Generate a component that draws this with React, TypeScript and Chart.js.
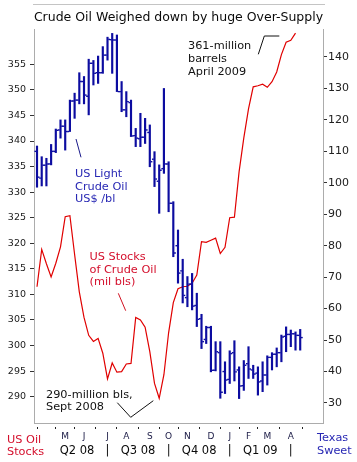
import React, { useEffect, useRef } from 'react';
import { Chart, registerables } from 'chart.js';

Chart.register(...registerables);

const FONT = '"DejaVu Sans", Verdana, sans-serif';

// Weekly categories (week starting)
const weeks = [
  '2008-03-17', '2008-03-24', '2008-03-31', '2008-04-07', '2008-04-14', '2008-04-21', '2008-04-28',
  '2008-05-05', '2008-05-12', '2008-05-19', '2008-05-26', '2008-06-02', '2008-06-09', '2008-06-16',
  '2008-06-23', '2008-06-30', '2008-07-07', '2008-07-14', '2008-07-21', '2008-07-28', '2008-08-04',
  '2008-08-11', '2008-08-18', '2008-08-25', '2008-09-01', '2008-09-08', '2008-09-15', '2008-09-22',
  '2008-09-29', '2008-10-06', '2008-10-13', '2008-10-20', '2008-10-27', '2008-11-03', '2008-11-10',
  '2008-11-17', '2008-11-24', '2008-12-01', '2008-12-08', '2008-12-15', '2008-12-22', '2008-12-29',
  '2009-01-05', '2009-01-12', '2009-01-19', '2009-01-26', '2009-02-02', '2009-02-09', '2009-02-16',
  '2009-02-23', '2009-03-02', '2009-03-09', '2009-03-16', '2009-03-23', '2009-03-30', '2009-04-06',
  '2009-04-13',
];

// Texas Sweet (US Light Crude) weekly OHLC, US$/bl
const wtiOpen = [
  110.0, 101.5, 105.6, 106.0, 110.0, 116.8, 118.0, 116.3, 126.0, 126.3, 132.2, 127.5, 138.0, 135.0,
  135.0, 140.6, 145.5, 145.4, 129.0, 123.2, 125.5, 115.0, 114.0, 114.5, 116.0, 107.5, 100.5, 104.5,
  106.0, 93.5, 80.0, 72.0, 63.5, 67.8, 61.0, 56.8, 50.2, 54.0, 40.4, 46.0, 40.0, 37.5,
  46.0, 40.5, 35.5, 42.5, 40.5, 39.5, 37.0, 38.9, 44.5, 45.5, 46.0, 51.2, 51.8, 52.0,
  51.5,
];
const wtiHigh = [
  111.7, 108.3, 107.8, 112.2, 117.1, 120.0, 120.0, 126.3, 128.5, 135.0, 133.8, 139.3, 138.9, 140.3,
  143.3, 146.3, 147.5, 147.0, 132.2, 129.0, 126.3, 117.3, 122.1, 120.5, 118.4, 109.9, 105.7, 130.0,
  106.7, 94.0, 85.0, 75.7, 70.2, 71.2, 64.9, 58.2, 54.4, 54.4, 49.5, 49.5, 43.1, 46.6,
  49.8, 41.5, 43.5, 47.9, 42.0, 41.5, 43.1, 45.0, 46.0, 47.5, 51.6, 54.2, 53.2, 52.6,
  53.4,
];
const wtiLow = [
  98.6, 99.0, 99.0, 105.7, 109.6, 114.2, 110.4, 116.3, 120.5, 125.1, 125.1, 121.6, 131.1, 131.6,
  134.8, 139.0, 134.8, 129.0, 122.6, 121.0, 114.7, 111.5, 111.5, 112.5, 105.1, 98.8, 90.3, 103.0,
  90.8, 76.5, 68.1, 61.8, 60.6, 59.6, 54.3, 47.3, 48.9, 39.9, 40.2, 31.5, 33.0, 36.2,
  37.0, 31.4, 34.0, 37.8, 37.8, 32.5, 33.6, 35.7, 40.5, 41.5, 43.1, 46.3, 47.9, 46.8,
  46.8,
];
const wtiClose = [
  101.8, 105.6, 106.0, 110.0, 116.7, 118.0, 116.3, 126.0, 126.3, 132.2, 127.9, 138.0, 134.8, 135.0,
  140.6, 145.6, 145.4, 129.0, 123.2, 125.8, 114.9, 114.2, 114.5, 116.8, 106.7, 101.2, 104.0, 106.0,
  93.5, 77.7, 71.3, 64.2, 67.8, 60.8, 56.6, 49.5, 54.0, 40.4, 46.3, 33.4, 37.3, 45.7,
  39.9, 35.4, 42.0, 40.8, 39.2, 36.7, 38.9, 44.5, 45.5, 46.0, 51.0, 51.8, 52.0, 51.5,
  50.8,
];

// US crude oil stocks, million barrels (weekly)
const crudeStocks = [
  311.5, 318.8, 316.0, 313.4, 316.1, 319.3, 325.2, 325.4, 317.8, 310.5, 305.5, 302.0, 300.8, 301.4,
  298.5, 293.5, 296.6, 294.8, 294.9, 296.4, 296.5, 305.5, 305.0, 303.6, 298.8, 292.6, 289.7, 294.3,
  302.5, 308.4, 311.1, 311.5, 311.6, 312.2, 313.8, 320.3, 320.2, 320.6, 321.0, 318.0, 319.2, 325.0,
  325.1, 334.0, 340.6, 346.3, 350.6, 350.8, 351.1, 350.5, 351.6, 353.5, 356.9, 359.3, 359.7, 361.1,
];

// Axis ticks
const monthTickWeeks = [2, 6, 10, 15, 19, 24, 28, 32, 37, 41, 45, 49, 54];
const monthLabels = ['', 'M', 'J', 'J', 'A', 'S', 'O', 'N', 'D', 'J', 'F', 'M', 'A'];
const quarterTickWeeks = [8.5, 15, 21.5, 28, 34.5, 41, 47.5, 54];
const quarterLabels = ['Q2 08', '|', 'Q3 08', '|', 'Q4 08', '|', 'Q1 09', '|'];
const stockTicks = [290, 295, 300, 305, 310, 315, 320, 325, 330, 335, 340, 345, 350, 355];
const priceTicks = [30, 40, 50, 60, 70, 80, 90, 100, 110, 120, 130, 140];

const TITLE = 'Crude Oil Weighed down by huge Over-Supply';

const BAR_COLOR = '#0c0ca0';
const LINE_COLOR = '#e00000';
const RED_TEXT = '#d40f2c';
const BLUE_TEXT = '#2828b4';

const notes = [
  { lines: ['US Light', 'Crude Oil', 'US$ /bl'], x: 75, ys: [177, 189.5, 201.5], color: BLUE_TEXT },
  { lines: ['US Stocks', 'of Crude Oil', '(mil bls)'], x: 89.5, ys: [259.5, 272.5, 285], color: RED_TEXT },
  { lines: ['290-million bls,', 'Sept 2008'], x: 46, ys: [397.5, 409.5], color: '#111111' },
  { lines: ['361-million', 'barrels', 'April 2009'], x: 188, ys: [48.5, 61.5, 75], color: '#111111' },
  { lines: ['US Oil', 'Stocks'], x: 7, ys: [442.5, 455], color: RED_TEXT },
  { lines: ['Texas', 'Sweet'], x: 317, ys: [440.5, 453.5], color: BLUE_TEXT },
];

const leaders = [
  { pts: [[76, 139], [81, 157.3]], color: '#1a1a8a' },
  { pts: [[118.3, 293.3], [125.7, 310.7]], color: '#d01020' },
  { pts: [[117.3, 402.7], [130.7, 417.3], [153.3, 400.7]], color: '#111111' },
  { pts: [[258.3, 54.3], [264.3, 36], [279.3, 36]], color: '#111111' },
];

const decorPlugin = {
  id: 'decor',
  afterDraw(chart: any) {
    const ctx = chart.ctx as CanvasRenderingContext2D;
    ctx.save();
    ctx.strokeStyle = '#c4c4c4';
    ctx.lineWidth = 1;
    ctx.beginPath();
    ctx.moveTo(33, 4.5);
    ctx.lineTo(325, 4.5);
    ctx.stroke();
    for (const l of leaders) {
      ctx.strokeStyle = l.color;
      ctx.lineWidth = 1;
      ctx.beginPath();
      l.pts.forEach((p, i) => (i === 0 ? ctx.moveTo(p[0], p[1]) : ctx.lineTo(p[0], p[1])));
      ctx.stroke();
    }
    ctx.font = `11.3px ${FONT}`;
    ctx.textAlign = 'left';
    ctx.textBaseline = 'alphabetic';
    for (const n of notes) {
      ctx.fillStyle = n.color;
      n.lines.forEach((t, i) => ctx.fillText(t, n.x, n.ys[i]));
    }
    ctx.restore();
  },
};

const tickDataset = (label: string, values: number[], shift: number) => ({
  type: 'line',
  label,
  data: weeks.map((_, i) => ({ x: i + shift, y: values[i] })),
  showLine: false,
  pointStyle: 'line',
  pointRadius: 0.9,
  pointHoverRadius: 0.9,
  pointBorderWidth: 1.4,
  pointBorderColor: BAR_COLOR,
  pointBackgroundColor: BAR_COLOR,
  xAxisID: 'x',
  yAxisID: 'y1',
  order: 1,
});

export default function App() {
  const ref = useRef<HTMLCanvasElement | null>(null);

  useEffect(() => {
    if (!ref.current) return;
    Chart.defaults.font.family = FONT;
    const chart = new Chart(ref.current, {
      type: 'bar',
      data: {
        datasets: [
          {
            type: 'bar',
            label: 'Texas Sweet range',
            data: weeks.map((_, i) => ({ x: i, y: [wtiLow[i], wtiHigh[i]] })) as any,
            backgroundColor: BAR_COLOR,
            borderWidth: 0,
            barThickness: 1.5,
            xAxisID: 'x',
            yAxisID: 'y1',
            order: 1,
          },
          tickDataset('Open', wtiOpen, -0.35),
          tickDataset('Close', wtiClose, 0.35),
          {
            type: 'line',
            label: 'US Stocks',
            data: crudeStocks.map((v, i) => ({ x: i, y: v })),
            borderColor: LINE_COLOR,
            borderWidth: 1.2,
            pointRadius: 0,
            tension: 0,
            fill: false,
            xAxisID: 'x',
            yAxisID: 'y',
            order: 2,
          },
        ] as any,
      },
      options: {
        responsive: false,
        animation: false,
        devicePixelRatio: 1,
        layout: { padding: 0 },
        plugins: {
          legend: { display: false },
          tooltip: { enabled: false },
          title: {
            display: true,
            text: TITLE,
            color: '#0a0a0a',
            font: { family: FONT, size: 12.5, weight: 'normal' },
            padding: { top: 10, bottom: 4 },
          },
        },
        scales: {
          x: {
            type: 'linear',
            position: 'bottom',
            min: -0.64,
            max: 60.85,
            offset: false,
            weight: 0,
            afterBuildTicks: (s: any) => {
              s.ticks = monthTickWeeks.map((v) => ({ value: v }));
            },
            afterFit: (s: any) => {
              s.height = 20;
            },
            ticks: {
              autoSkip: false,
              maxRotation: 0,
              padding: 2,
              color: '#20204a',
              font: { family: FONT, size: 9 },
              callback: (_v: any, i: number) => monthLabels[i],
            },
            grid: {
              drawOnChartArea: false,
              drawTicks: true,
              tickLength: 6,
              tickColor: '#222',
              tickWidth: 1,
              tickBorderDash: [0, 3, 3, 10],
            },
            border: { display: true, color: '#acacac', width: 1 },
          },
          x2: {
            type: 'linear',
            position: 'bottom',
            min: -0.64,
            max: 60.85,
            offset: false,
            weight: 1,
            afterBuildTicks: (s: any) => {
              s.ticks = quarterTickWeeks.map((v) => ({ value: v }));
            },
            afterFit: (s: any) => {
              s.height = 19;
            },
            ticks: {
              autoSkip: false,
              maxRotation: 0,
              padding: 1,
              color: '#0a0a0a',
              font: { family: FONT, size: 11.5 },
              callback: (_v: any, i: number) => quarterLabels[i],
            },
            grid: { display: false, drawTicks: false },
            border: { display: false },
          },
          y: {
            type: 'linear',
            position: 'left',
            min: 284.86,
            max: 361.9,
            afterBuildTicks: (s: any) => {
              s.ticks = stockTicks.map((v) => ({ value: v }));
            },
            afterFit: (s: any) => {
              s.width = 34;
            },
            ticks: {
              padding: 4,
              color: '#202020',
              font: { family: FONT, size: 9.5 },
            },
            grid: {
              drawOnChartArea: false,
              drawTicks: true,
              tickLength: 4,
              tickColor: '#333',
            },
            border: { display: true, color: '#acacac', width: 1 },
          },
          y1: {
            type: 'linear',
            position: 'right',
            min: 23.64,
            max: 148.9,
            afterBuildTicks: (s: any) => {
              s.ticks = priceTicks.map((v) => ({ value: v }));
            },
            afterFit: (s: any) => {
              s.width = 34;
            },
            ticks: {
              padding: 1,
              color: '#202020',
              font: { family: FONT, size: 11 },
            },
            grid: {
              drawOnChartArea: false,
              drawTicks: true,
              tickLength: 4,
              tickColor: '#333',
            },
            border: { display: true, color: '#acacac', width: 1 },
          },
        },
      } as any,
      plugins: [decorPlugin],
    });
    return () => chart.destroy();
  }, []);

  return (
    <div style={{ position: 'absolute', left: 0, top: 0, width: 357, height: 462, background: '#fff' }}>
      <canvas ref={ref} width={357} height={462} style={{ display: 'block', width: 357, height: 462 }} />
    </div>
  );
}
